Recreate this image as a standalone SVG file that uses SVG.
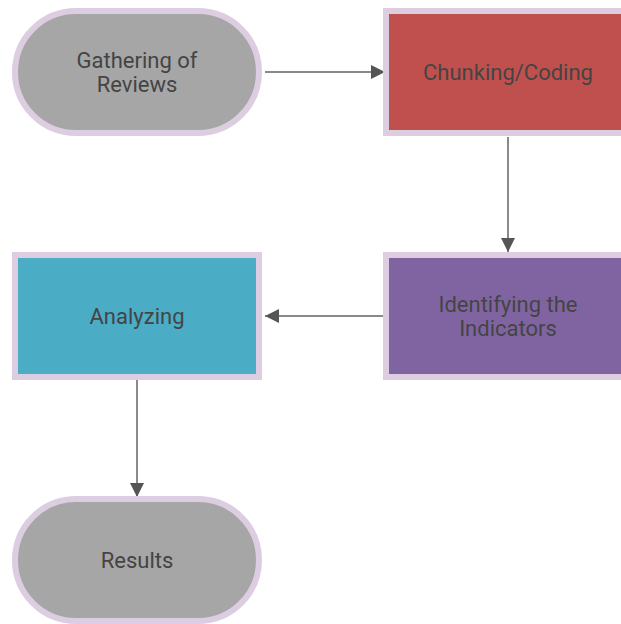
<svg xmlns="http://www.w3.org/2000/svg" width="621" height="624" viewBox="0 0 621 624">
<defs>
<style>
.node{stroke:#dccde1;stroke-width:6}
.lbl{font-family:Roboto,"Liberation Sans",Arial,sans-serif;font-size:22px;fill:#444;text-anchor:middle}
.edge{stroke:#8a8a8a;stroke-width:2;fill:none}
</style>
<marker id="arr" markerUnits="userSpaceOnUse" viewBox="0 0 14 14" refX="14" refY="7" markerWidth="14" markerHeight="14" orient="auto">
<path d="M0,0 L14,7 L0,14 z" fill="#555"/>
</marker>
</defs>
<rect width="621" height="624" fill="#fff"/>
<g id="connectors">
<path class="edge" d="M265,72 L385,72" marker-end="url(#arr)"/>
<path class="edge" d="M508,137 L508,252" marker-end="url(#arr)"/>
<path class="edge" d="M383,316 L265,316" marker-end="url(#arr)"/>
<path class="edge" d="M137,380 L137,497" marker-end="url(#arr)"/>
</g>
<g id="gathering">
<rect class="node" x="15" y="11" width="244" height="122" rx="61" fill="#a6a6a6"/>
<text class="lbl" x="137" y="68">Gathering of</text>
<text class="lbl" x="137" y="92">Reviews</text>
</g>
<g id="chunking">
<rect class="node" x="386" y="11" width="244" height="122" fill="#c0504d"/>
<text class="lbl" x="508" y="80">Chunking/Coding</text>
</g>
<g id="identifying">
<rect class="node" x="386" y="255" width="244" height="122" fill="#8064a2"/>
<text class="lbl" x="508" y="312">Identifying the</text>
<text class="lbl" x="508" y="336">Indicators</text>
</g>
<g id="analyzing">
<rect class="node" x="15" y="255" width="244" height="122" fill="#4bacc6"/>
<text class="lbl" x="137" y="324">Analyzing</text>
</g>
<g id="results">
<rect class="node" x="15" y="499" width="244" height="122" rx="61" fill="#a6a6a6"/>
<text class="lbl" x="137" y="568">Results</text>
</g>
</svg>
